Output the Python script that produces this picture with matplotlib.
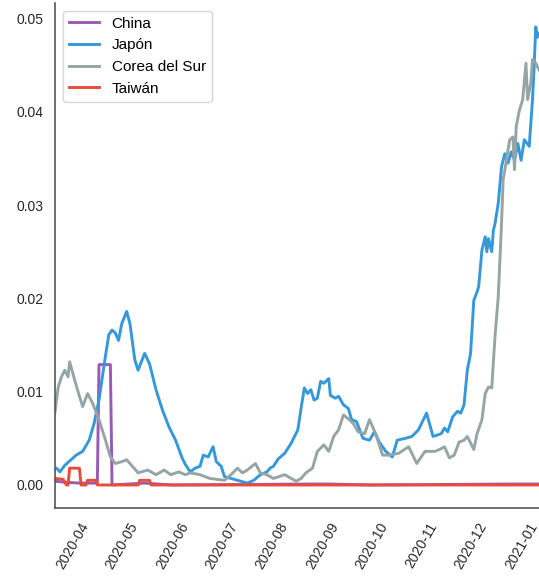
import matplotlib
matplotlib.use("Agg")
import matplotlib.pyplot as plt
import matplotlib.dates as mdates
import pandas as pd

plt.rcParams['font.family'] = ['Liberation Sans', 'DejaVu Sans']

# Colores (paleta flatui)
COLORS = {
    'China': '#9b59b6',
    'Japón': '#3498db',
    'Corea del Sur': '#95a5a6',
    'Taiwán': '#e74c3c',
}

# Valores (media móvil, por país)
china_dates = ['2020-03-21', '2020-03-27', '2020-04-05', '2020-04-16', '2020-04-17',
               '2020-04-24', '2020-04-25', '2020-05-15', '2020-06-01', '2020-08-25',
               '2020-09-05', '2020-10-01', '2020-12-25', '2021-01-12']
china_vals = [0.0004, 0.0003, 0.0002, 0.0002, 0.0129,
              0.0129, 0.0, 0.0002, 0.0, 0.0001,
              0.0001, 0.0, 0.0001, 0.0001]

japan_dates = ['2020-03-21', '2020-03-22', '2020-03-24', '2020-03-27', '2020-04-03',
               '2020-04-07', '2020-04-11', '2020-04-14', '2020-04-17', '2020-04-20',
               '2020-04-23', '2020-04-25', '2020-04-27', '2020-04-29', '2020-05-01',
               '2020-05-04', '2020-05-06', '2020-05-09', '2020-05-11', '2020-05-15',
               '2020-05-18', '2020-05-22', '2020-05-26', '2020-05-30', '2020-06-03',
               '2020-06-07', '2020-06-09', '2020-06-12', '2020-06-15', '2020-06-18',
               '2020-06-20', '2020-06-23', '2020-06-26', '2020-06-28', '2020-07-01',
               '2020-07-03', '2020-07-07', '2020-07-11', '2020-07-17', '2020-07-21',
               '2020-07-25', '2020-07-29', '2020-07-31', '2020-08-02', '2020-08-05',
               '2020-08-09', '2020-08-13', '2020-08-17', '2020-08-19', '2020-08-21',
               '2020-08-23', '2020-08-25', '2020-08-27', '2020-08-29', '2020-08-31',
               '2020-09-02', '2020-09-05', '2020-09-06', '2020-09-09', '2020-09-11',
               '2020-09-14', '2020-09-17', '2020-09-19', '2020-09-22', '2020-09-26',
               '2020-09-30', '2020-10-03', '2020-10-06', '2020-10-10', '2020-10-14',
               '2020-10-17', '2020-10-22', '2020-10-26', '2020-10-30', '2020-11-04',
               '2020-11-08', '2020-11-13', '2020-11-15', '2020-11-17', '2020-11-20',
               '2020-11-23', '2020-11-25', '2020-11-27', '2020-11-29', '2020-12-01',
               '2020-12-03', '2020-12-05', '2020-12-06', '2020-12-08', '2020-12-10',
               '2020-12-11', '2020-12-12', '2020-12-14', '2020-12-15', '2020-12-16',
               '2020-12-18', '2020-12-20', '2020-12-22', '2020-12-24', '2020-12-26',
               '2020-12-28', '2020-12-30', '2021-01-01', '2021-01-03', '2021-01-06',
               '2021-01-08', '2021-01-09', '2021-01-10', '2021-01-11', '2021-01-12']
japan_vals = [0.0017, 0.0018, 0.0014, 0.0021, 0.0032,
              0.0036, 0.0048, 0.0066, 0.0091, 0.0127,
              0.0161, 0.0166, 0.0163, 0.0155, 0.0173,
              0.0186, 0.0173, 0.0134, 0.0123, 0.0141,
              0.0130, 0.0102, 0.0080, 0.0062, 0.0048,
              0.0029, 0.0022, 0.0014, 0.0018, 0.0020,
              0.0032, 0.0030, 0.0041, 0.0025, 0.0020,
              0.0009, 0.0007, 0.0005, 0.0002, 0.0005,
              0.0011, 0.0014, 0.0018, 0.0020, 0.0028,
              0.0034, 0.0045, 0.0059, 0.0082, 0.0104,
              0.0098, 0.0102, 0.0091, 0.0093, 0.0111,
              0.0109, 0.0114, 0.0096, 0.0093, 0.0095,
              0.0086, 0.0082, 0.0070, 0.0068, 0.0050,
              0.0048, 0.0057, 0.0046, 0.0036, 0.0030,
              0.0048, 0.0050, 0.0052, 0.0059, 0.0077,
              0.0052, 0.0055, 0.0061, 0.0057, 0.0073,
              0.0079, 0.0077, 0.0086, 0.0123, 0.0141,
              0.0198, 0.0207, 0.0213, 0.0252, 0.0266,
              0.0250, 0.0264, 0.0250, 0.0273, 0.0280,
              0.0302, 0.0341, 0.0355, 0.0345, 0.0357,
              0.0348, 0.0366, 0.0348, 0.0370, 0.0363,
              0.0413, 0.0448, 0.0491, 0.0480, 0.0484]

korea_dates = ['2020-03-21', '2020-03-23', '2020-03-25', '2020-03-27', '2020-03-29',
               '2020-03-30', '2020-04-02', '2020-04-05', '2020-04-07', '2020-04-10',
               '2020-04-13', '2020-04-17', '2020-04-21', '2020-04-24', '2020-04-27',
               '2020-05-01', '2020-05-04', '2020-05-07', '2020-05-11', '2020-05-17',
               '2020-05-22', '2020-05-27', '2020-05-31', '2020-06-05', '2020-06-09',
               '2020-06-12', '2020-06-18', '2020-06-24', '2020-07-03', '2020-07-07',
               '2020-07-11', '2020-07-14', '2020-07-17', '2020-07-22', '2020-07-25',
               '2020-07-29', '2020-08-02', '2020-08-09', '2020-08-16', '2020-08-19',
               '2020-08-22', '2020-08-26', '2020-08-29', '2020-09-02', '2020-09-05',
               '2020-09-08', '2020-09-11', '2020-09-14', '2020-09-17', '2020-09-20',
               '2020-09-23', '2020-09-27', '2020-09-30', '2020-10-04', '2020-10-08',
               '2020-10-12', '2020-10-18', '2020-10-24', '2020-10-29', '2020-11-03',
               '2020-11-09', '2020-11-12', '2020-11-15', '2020-11-18', '2020-11-21',
               '2020-11-24', '2020-11-27', '2020-11-29', '2020-12-03', '2020-12-05',
               '2020-12-08', '2020-12-10', '2020-12-12', '2020-12-14', '2020-12-16',
               '2020-12-18', '2020-12-20', '2020-12-21', '2020-12-23', '2020-12-25',
               '2020-12-27', '2020-12-28', '2020-12-29', '2020-12-31', '2021-01-02',
               '2021-01-04', '2021-01-05', '2021-01-07', '2021-01-08', '2021-01-10',
               '2021-01-12']
korea_vals = [0.0078, 0.0105, 0.0116, 0.0123, 0.0116,
              0.0132, 0.0113, 0.0095, 0.0084, 0.0098,
              0.0088, 0.0070, 0.0048, 0.0030, 0.0023,
              0.0025, 0.0027, 0.0021, 0.0013, 0.0016,
              0.0011, 0.0016, 0.0011, 0.0014, 0.0011,
              0.0013, 0.0011, 0.0007, 0.0005, 0.0011,
              0.0018, 0.0013, 0.0016, 0.0023, 0.0013,
              0.0011, 0.0007, 0.0011, 0.0004, 0.0007,
              0.0013, 0.0018, 0.0036, 0.0043, 0.0036,
              0.0052, 0.0059, 0.0075, 0.0071, 0.0066,
              0.0057, 0.0055, 0.0070, 0.0054, 0.0032,
              0.0032, 0.0034, 0.0041, 0.0023, 0.0036,
              0.0036, 0.0038, 0.0041, 0.0029, 0.0032,
              0.0046, 0.0048, 0.0052, 0.0038, 0.0055,
              0.0070, 0.0098, 0.0105, 0.0104, 0.0159,
              0.0202, 0.0280, 0.0327, 0.0348, 0.0370,
              0.0373, 0.0338, 0.0384, 0.0402, 0.0413,
              0.0452, 0.0413, 0.0431, 0.0456, 0.0452,
              0.0445]

taiwan_dates = ['2020-03-21', '2020-03-26', '2020-03-28', '2020-03-29', '2020-03-30',
                '2020-04-05', '2020-04-06', '2020-04-09', '2020-04-10', '2020-04-15',
                '2020-04-16', '2020-05-11', '2020-05-12', '2020-05-18', '2020-05-19',
                '2021-01-12']
taiwan_vals = [0.0007, 0.0006, 0.0, 0.0, 0.0018,
               0.0018, 0.0, 0.0, 0.0005, 0.0005,
               0.0, 0.0, 0.0005, 0.0005, 0.0,
               0.0]

series = [
    ('China', china_dates, china_vals),
    ('Japón', japan_dates, japan_vals),
    ('Corea del Sur', korea_dates, korea_vals),
    ('Taiwán', taiwan_dates, taiwan_vals),
]

fig = plt.figure(figsize=(5.39, 5.79), dpi=100)
ax = fig.add_axes([0.102, 0.1226, 0.898, 0.8722])

for name, dates, vals in series:
    ax.plot(pd.to_datetime(dates), vals, color=COLORS[name], linewidth=2.1, label=name)

ax.set_xlim(pd.Timestamp('2020-03-21'), pd.Timestamp('2021-01-12'))
ax.set_ylim(-0.00247, 0.05166)
ax.set_yticks([0.0, 0.01, 0.02, 0.03, 0.04, 0.05])
ax.set_yticklabels(['0.00', '0.01', '0.02', '0.03', '0.04', '0.05'])

ax.xaxis.set_major_locator(mdates.MonthLocator())
ax.xaxis.set_major_formatter(mdates.DateFormatter('%Y-%m'))
plt.setp(ax.get_xticklabels(), rotation=60, ha='center')

ax.tick_params(axis='both', length=0, pad=8.5, labelsize=10, labelcolor='#262626')

for side in ['top', 'right']:
    ax.spines[side].set_visible(False)
for side in ['left', 'bottom']:
    ax.spines[side].set_color('#555555')
    ax.spines[side].set_linewidth(1.2)

leg = ax.legend(loc='upper left', fontsize=11, frameon=True, fancybox=True)
leg.get_frame().set_edgecolor('#cccccc')

fig.savefig('out.png', dpi=100)
